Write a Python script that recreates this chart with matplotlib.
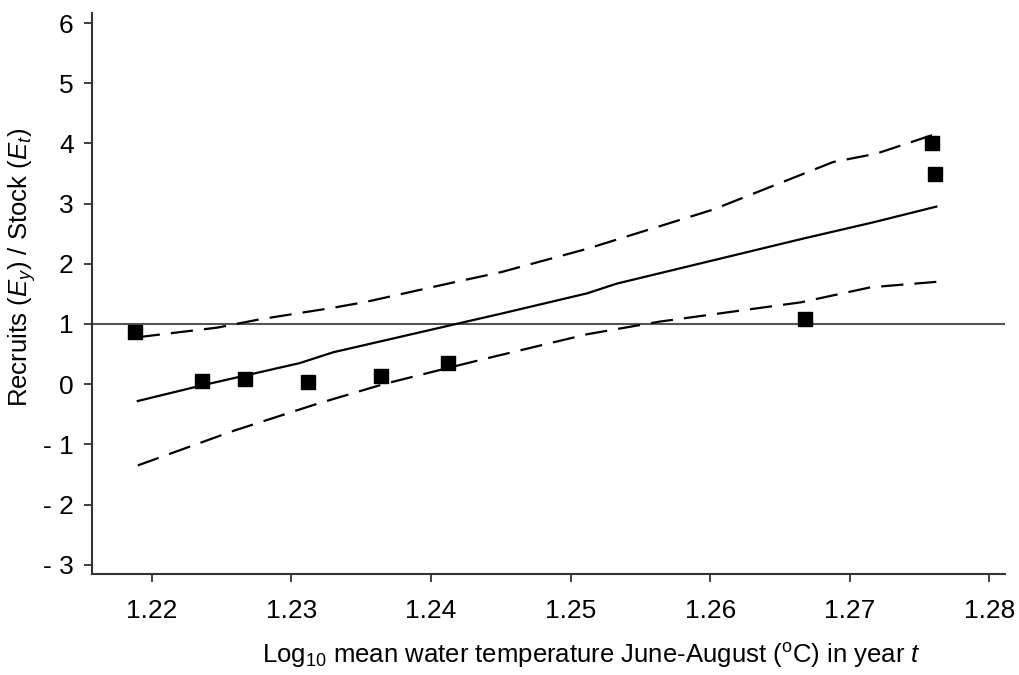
import matplotlib
matplotlib.use('Agg')
import matplotlib.pyplot as plt

plt.rcParams['font.family'] = ['Liberation Sans', 'DejaVu Sans']
plt.rcParams['mathtext.fontset'] = 'custom'
plt.rcParams['mathtext.rm'] = 'Liberation Sans'
plt.rcParams['mathtext.it'] = 'Liberation Sans:italic'

# observed points
temp_obs = [1.2188, 1.2236, 1.2267, 1.2312, 1.2364, 1.2412, 1.2668, 1.2759, 1.2761]
ratio_obs = [0.87, 0.05, 0.08, 0.04, 0.14, 0.35, 1.09, 4.01, 3.49]

# fitted line
temp_fit = [1.2190, 1.2236, 1.2306, 1.2330, 1.2418, 1.2450, 1.2512, 1.2533, 1.2665, 1.2717, 1.2762]
ratio_fit = [-0.28, -0.02, 0.35, 0.53, 1.00, 1.17, 1.51, 1.67, 2.41, 2.69, 2.95]

# upper confidence limit
temp_up = [1.2190, 1.2247, 1.2278, 1.2330, 1.2354, 1.2416, 1.2450, 1.2512, 1.2602, 1.2688, 1.2719, 1.2762]
ratio_up = [0.78, 0.94, 1.08, 1.27, 1.37, 1.69, 1.86, 2.25, 2.90, 3.69, 3.83, 4.16]

# lower confidence limit
temp_lo = [1.2190, 1.2258, 1.2318, 1.2366, 1.2414, 1.2442, 1.2512, 1.2564, 1.2665, 1.2715, 1.2762]
ratio_lo = [-1.35, -0.78, -0.33, 0.00, 0.28, 0.44, 0.83, 1.04, 1.36, 1.61, 1.70]

xticks = [1.22, 1.23, 1.24, 1.25, 1.26, 1.27, 1.28]
yticks = [-3, -2, -1, 0, 1, 2, 3, 4, 5, 6]

fig = plt.figure(figsize=(10.19, 6.75), dpi=100)
ax = fig.add_axes([0.090, 0.150, 0.896, 0.831])

ax.axhline(1, color='#555555', lw=1.5, zorder=1)
ax.plot(temp_fit, ratio_fit, color='black', lw=1.6)
ax.plot(temp_up, ratio_up, color='black', lw=1.6, dashes=(10, 5))
ax.plot(temp_lo, ratio_lo, color='black', lw=1.6, dashes=(10, 5))
ax.plot(temp_obs, ratio_obs, 's', color='black', markersize=10, zorder=3)

ax.set_xlim(1.2157, 1.2811)
ax.set_ylim(-3.15, 6.17)
ax.set_xticks(xticks)
ax.set_xticklabels(['%.2f' % t for t in xticks])
ax.set_yticks(yticks)
ax.set_yticklabels(['%d' % t if t >= 0 else '- %d' % -t for t in yticks])

for s in ['top', 'right']:
    ax.spines[s].set_visible(False)
for s in ['left', 'bottom']:
    ax.spines[s].set_linewidth(1.5)
    ax.spines[s].set_color('#333333')
ax.tick_params(direction='out', length=6, width=1.3, labelsize=19, color='#333333', pad=7)
ax.tick_params(axis='x', pad=12)

# axis titles placed as figure text
fig.text(591 / 1019, 1 - 655 / 675,
         r'Log$_{10}$ mean water temperature June-August ($^{\mathrm{o}}$C) in year $\mathit{t}$',
         fontsize=18.5, ha='center', va='center')
fig.text(22 / 1019, 1 - 267 / 675,
         r'Recruits ($\mathit{E}_{y}$) / Stock ($\mathit{E}_{t}$)',
         fontsize=18.5, ha='center', va='center', rotation=90)

fig.savefig('out.png', dpi=100)
